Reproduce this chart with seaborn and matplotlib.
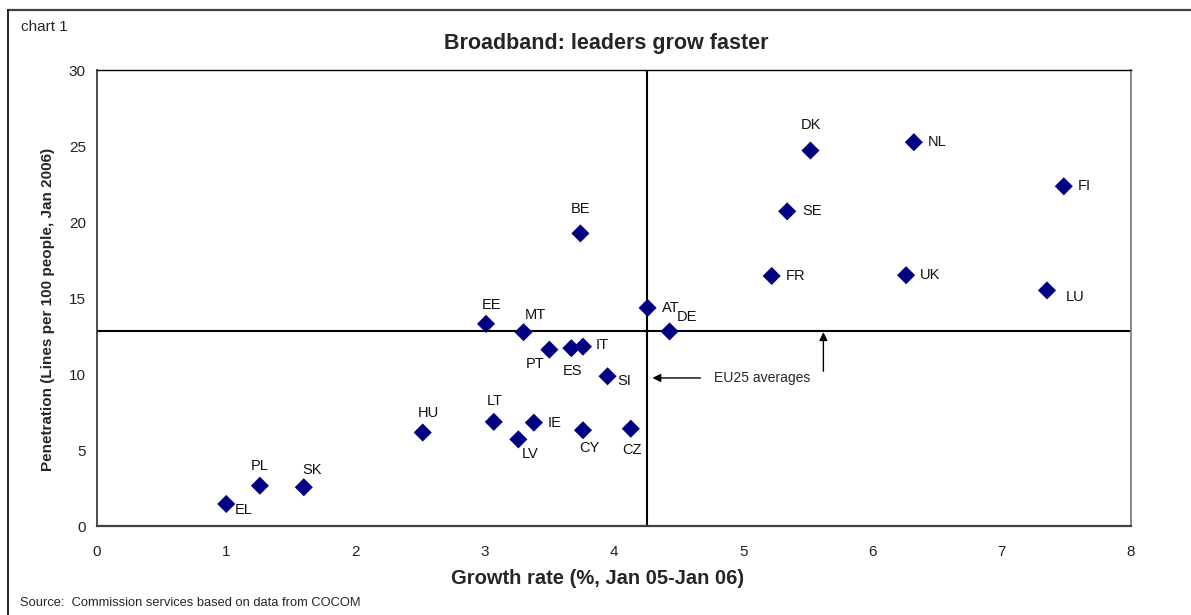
"""
Broadband penetration vs growth rate scatter (chart 1).
"""

import matplotlib
matplotlib.use("Agg")

import matplotlib.pyplot as plt
import pandas as pd
import seaborn as sns
from matplotlib.lines import Line2D


# =============================================================================
# DATA
# =============================================================================

countries = [
    "EL", "PL", "SK", "HU", "LT", "LV", "IE", "CY", "CZ",
    "EE", "MT", "PT", "ES", "IT", "SI", "AT", "DE", "BE",
    "DK", "NL", "FI", "SE", "FR", "UK", "LU",
]

growth = [
    1.00, 1.26, 1.60, 2.52, 3.07, 3.26, 3.38, 3.76, 4.13,
    3.01, 3.30, 3.50, 3.67, 3.76, 3.95, 4.26, 4.43, 3.74,
    5.52, 6.32, 7.48, 5.34, 5.22, 6.26, 7.35,
]

penetration = [
    1.45, 2.65, 2.55, 6.15, 6.85, 5.70, 6.80, 6.30, 6.40,
    13.3, 12.75, 11.6, 11.7, 11.8, 9.85, 14.35, 12.8, 19.25,
    24.7, 25.25, 22.35, 20.7, 16.45, 16.5, 15.5,
]

avg_growth = 4.256
avg_penetration = 12.85

x_ticks = [0, 1, 2, 3, 4, 5, 6, 7, 8]
y_ticks = [0, 5, 10, 15, 20, 25, 30]

df = pd.DataFrame({
    "country": countries,
    "growth": growth,
    "penetration": penetration,
})

# label placement: (dx, dy) in pixels from the marker, horizontal alignment
label_pos = {
    "EL": (8, -6, "left"), "PL": (0, 20, "center"), "SK": (8, 17, "center"),
    "HU": (6, 20, "center"), "LT": (1, 21, "center"), "LV": (12, -15, "center"),
    "IE": (14, 0, "left"), "CY": (6, -18, "center"), "CZ": (1, -21, "center"),
    "EE": (5, 19, "center"), "MT": (12, 17, "center"), "PT": (-14, -14, "center"),
    "ES": (1, -23, "center"), "IT": (13, 2, "left"), "SI": (10, -5, "left"),
    "AT": (14, 0, "left"), "DE": (7, 14, "left"), "BE": (0, 24, "center"),
    "DK": (0, 26, "center"), "NL": (14, 0, "left"), "FI": (14, 0, "left"),
    "SE": (15, 0, "left"), "FR": (14, 0, "left"), "UK": (14, 0, "left"),
    "LU": (19, -7, "left"),
}


# =============================================================================
# STYLE
# =============================================================================

sns.set_style("white")
plt.rcParams["font.family"] = ["Liberation Sans", "DejaVu Sans"]

NAVY = "#000080"


# =============================================================================
# PLOT
# =============================================================================

fig = plt.figure(figsize=(11.91, 6.15), dpi=100)
ax = fig.add_axes([97 / 1191, 89 / 615, 1034 / 1191, 456 / 615])

sns.scatterplot(
    data=df,
    x="growth",
    y="penetration",
    marker="D",
    s=85,
    color=NAVY,
    edgecolor="none",
    ax=ax,
    zorder=4,
)

for _, row in df.iterrows():
    dx, dy, ha = label_pos[row["country"]]
    ax.annotate(
        row["country"],
        (row["growth"], row["penetration"]),
        xytext=(dx, dy),
        textcoords="offset pixels",
        ha=ha,
        va="center",
        fontsize=10.5,
        color="#111111",
        zorder=5,
    )

# EU25 average lines
ax.axvline(avg_growth, color="black", lw=1.5, zorder=2)
ax.axhline(avg_penetration, color="black", lw=1.5, zorder=2)

arrow_style = dict(arrowstyle="-|>", color="black", lw=1, mutation_scale=12)
ax.annotate(
    "",
    xy=(avg_growth + 0.02, 9.74),
    xytext=(4.69, 9.74),
    arrowprops=arrow_style,
)
ax.annotate(
    "",
    xy=(5.62, avg_penetration + 0.08),
    xytext=(5.62, 10.0),
    arrowprops=arrow_style,
)
ax.text(4.77, 9.74, "EU25 averages", fontsize=10, va="center", ha="left")

ax.set_xlim(0, 8)
ax.set_ylim(0, 30)
ax.set_xticks(x_ticks)
ax.set_yticks(y_ticks)
ax.tick_params(
    axis="both", direction="out", length=5, width=1, labelsize=11,
    colors="#222222",
)
ax.tick_params(axis="x", pad=9)
ax.tick_params(axis="y", pad=3)

ax.set_xlabel(
    "Growth rate (%, Jan 05-Jan 06)",
    fontsize=14.5, fontweight="bold",
)
ax.set_ylabel(
    "Penetration (Lines per 100 people, Jan 2006)",
    fontsize=11, fontweight="bold",
)
ax.xaxis.set_label_coords((598 - 97) / 1034, -(578 - 526) / 456)
ax.yaxis.set_label_coords(-(97 - 48) / 1034, (526 - 309) / 456)
ax.xaxis.label.set_va("center")
ax.yaxis.label.set_va("center")

ax.spines["top"].set_color("black")
ax.spines["top"].set_linewidth(1)
ax.spines["right"].set_color("#808080")
ax.spines["right"].set_linewidth(1.3)
ax.spines["bottom"].set_color("#404040")
ax.spines["bottom"].set_linewidth(1.6)
ax.spines["left"].set_color("#303030")
ax.spines["left"].set_linewidth(1.2)

fig.text(
    606 / 1191, 1 - 43 / 615, "Broadband: leaders grow faster",
    ha="center", va="center", fontsize=15.5, fontweight="bold",
)
fig.text(21 / 1191, 1 - 27 / 615, "chart 1", ha="left", va="center",
         fontsize=11)
fig.text(
    20 / 1191, 1 - 603 / 615,
    "Source:  Commission services based on data from COCOM",
    ha="left", va="center", fontsize=9.3,
)

# outer frame (top and left edges visible)
fig.add_artist(Line2D([8 / 1191, 1], [1 - 10 / 615, 1 - 10 / 615],
                      color="#404040", lw=1.6, transform=fig.transFigure))
fig.add_artist(Line2D([8 / 1191, 8 / 1191], [0, 1 - 10 / 615],
                      color="black", lw=1.2, transform=fig.transFigure))

fig.savefig("out.png", dpi=100)
